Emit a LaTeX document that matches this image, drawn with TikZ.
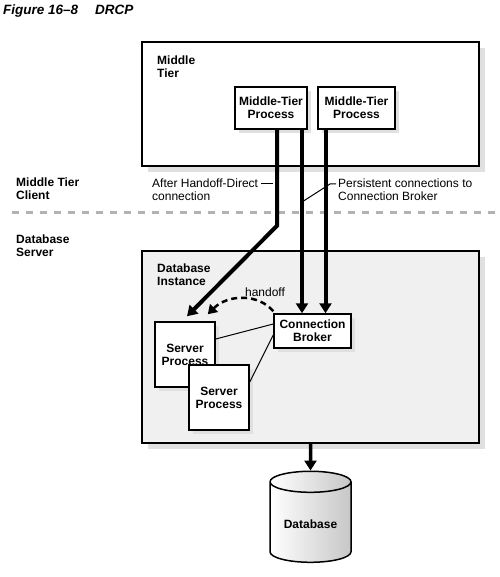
\documentclass[tikz,border=0pt]{standalone}
\usepackage{fontspec}
\setmainfont{Liberation Sans}
\usetikzlibrary{arrows.meta,shadows,shapes.geometric}

\tikzset{
  lbl/.style={align=left, inner sep=0pt, font=\fontsize{12}{13}\selectfont\bfseries},
  note/.style={align=left, inner sep=0pt, font=\fontsize{12}{13}\selectfont},
  tierbox/.style={draw, line width=1.5pt, fill=white,
    drop shadow={shadow xshift=6pt, shadow yshift=-6pt, fill=black!12, opacity=1}},
  procbox/.style={draw, line width=1.5pt, fill=white, align=center, inner sep=0pt,
    font=\fontsize{12}{13}\selectfont\bfseries,
    drop shadow={shadow xshift=4pt, shadow yshift=-4pt, fill=black!12, opacity=1}},
  bigarrow/.style={line width=4pt, -{Triangle[length=10pt,width=12pt]}},
  handoffarrow/.style={line width=2.5pt, dash pattern=on 6pt off 4pt, -{Triangle[length=9pt,width=11pt]}},
  thinline/.style={line width=1pt},
  sepline/.style={draw=black!30, line width=3pt, dash pattern=on 7pt off 7pt},
  dbcyl/.style={cylinder, shape border rotate=90, aspect=0.35, draw, line width=1.5pt,
    left color=white, right color=black!22, minimum width=81pt, minimum height=91pt,
    font=\fontsize{12}{13}\selectfont\bfseries}
}

\begin{document}
\begin{tikzpicture}[x=1pt,y=-1pt]
  \useasboundingbox (0,0) rectangle (499,577);

  % title
  \node[anchor=base west, inner sep=0pt, font=\fontsize{13.5}{15}\selectfont\bfseries\itshape] (title) at (3,15) {Figure 16--8\hspace{17pt}DRCP};

  % middle tier
  \node[tierbox, minimum width=337pt, minimum height=124pt] (mt) at (310.5,104) {};
  \node[lbl, anchor=north west] (mtlbl) at (157,56) {Middle\\Tier};
  \node[procbox, minimum width=72pt, minimum height=42pt] (mtp1) at (271,108) {Middle-Tier\\Process};
  \node[procbox, minimum width=77pt, minimum height=42pt] (mtp2) at (356.5,108) {Middle-Tier\\Process};

  % tier labels and separator
  \node[lbl, anchor=north west] (mtclient) at (16,178) {Middle Tier\\Client};
  \node[lbl, anchor=north west] (dbserver) at (16,235) {Database\\Server};
  \coordinate (sepl) at (12,212);
  \coordinate (sepr) at (499,212);
  \draw[sepline] (sepl) -- (sepr);

  % database instance
  \node[tierbox, fill=black!6, minimum width=337pt, minimum height=192pt] (inst) at (310.5,347) {};
  \node[lbl, anchor=north west] (instlbl) at (157,264) {Database\\Instance};
  \node[procbox, minimum width=77pt, minimum height=34pt] (cb) at (312.5,331) {Connection\\Broker};
  \node[procbox, minimum width=60pt, minimum height=65pt] (sp1) at (185,354.5) {Server\\Process};
  \node[procbox, minimum width=60pt, minimum height=65pt] (sp2) at (219,397.5) {Server\\Process};

  \draw[thinline] ([yshift=7pt]cb.west) -- ([yshift=15.5pt]sp1.east);
  \draw[thinline] ([yshift=-4pt]cb.west) -- ([yshift=15.5pt]sp2.east);

  % connections
  \draw[bigarrow] ([xshift=6pt]mtp1.south) -- ++(0,96) -- ([xshift=2pt,yshift=5pt]sp1.north);
  \draw[bigarrow] ([xshift=31pt]mtp1.south) -- ([xshift=31pt]mtp1.south |- cb.north);
  \draw[bigarrow] ([xshift=-31pt]mtp2.south) -- ([xshift=-31pt]mtp2.south |- cb.north);
  \draw[handoffarrow] ([yshift=2pt]cb.north west) .. controls +(-15,-18) and +(20,-20) .. ([xshift=-8pt,yshift=7pt]sp1.north east);
  \node[note] (hlbl) at (265,292) {handoff};

  % annotations
  \node[note, anchor=north west] (after) at (152,179) {After Handoff-Direct\\connection};
  \node[note, anchor=north west] (persist) at (338,179) {Persistent connections to\\Connection Broker};
  \coordinate (brokerlink) at (302,202);
  \draw[thinline] ([xshift=3pt,yshift=-5pt]after.north east) -- ++(12,0);
  \draw[thinline] ([xshift=-2pt,yshift=-5pt]persist.north west) -- ++(-6,0) -- (brokerlink);

  % database
  \node[dbcyl] (db) at (310.5,524.5) {Database};
  \draw[bigarrow, line width=3.5pt] (inst.south) -- (db.north);
\end{tikzpicture}
\end{document}
